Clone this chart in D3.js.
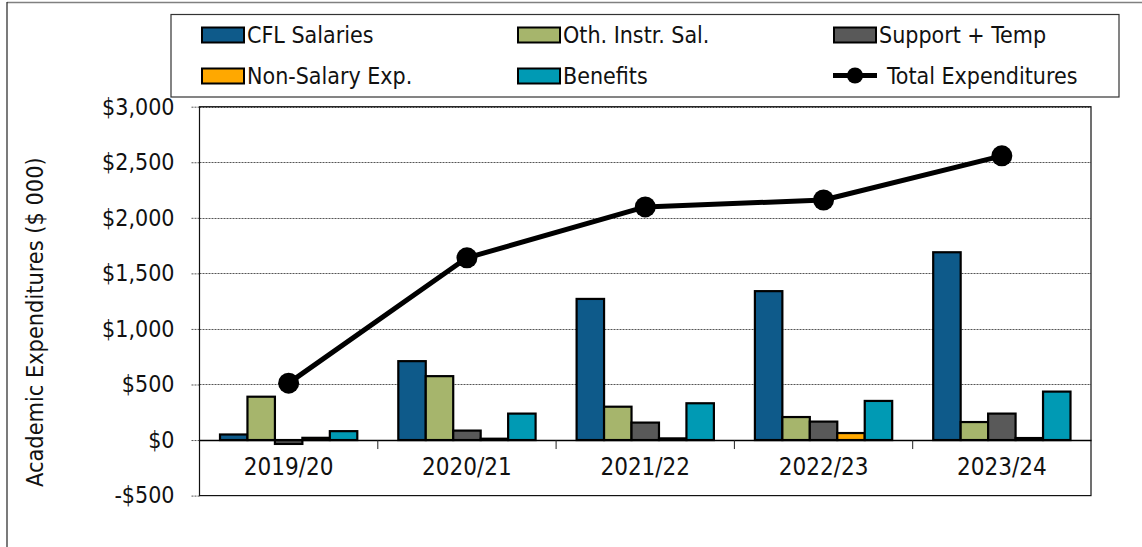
<!DOCTYPE html>
<html><head><meta charset="utf-8">
<script src="https://cdn.jsdelivr.net/npm/d3@7"></script>
<style>
body{margin:0;background:#fff;}
svg{display:block;}
text{font-family:"Liberation Sans Narrow","Arial Narrow","DejaVu Sans Condensed",sans-serif;fill:#111;}
</style></head>
<body>
<script>
const categories = ["2019/20","2020/21","2021/22","2022/23","2023/24"];
const seriesNames = ["CFL Salaries","Oth. Instr. Sal.","Support + Temp","Non-Salary Exp.","Benefits"];
const seriesColors = ["#0E5A8A","#A6B56C","#595959","#FFA800","#009AB4"];
const cflSalaries = [50, 710, 1270, 1340, 1690];
const othInstrSal = [390, 575, 300, 207, 162];
const supportTemp = [-35, 85, 157, 166, 238];
const nonSalaryExp = [20, 12, 15, 63, 18];
const benefits = [80, 238, 331, 352, 436];
const totalExpenditures = [512, 1640, 2098, 2160, 2558];
const yTicks = [-500, 0, 500, 1000, 1500, 2000, 2500, 3000];
const totalName = "Total Expenditures";
const yTitle = "Academic Expenditures ($ 000)";

const seriesValues = [cflSalaries, othInstrSal, supportTemp, nonSalaryExp, benefits];

const W = 1142, H = 547;
const svg = d3.select("body").append("svg").attr("width", W).attr("height", H);

// outer frame
svg.append("line").attr("x1",7).attr("x2",W).attr("y1",2.5).attr("y2",2.5).attr("stroke","#808080").attr("stroke-width",1.5);
svg.append("line").attr("x1",7).attr("x2",7).attr("y1",2).attr("y2",H).attr("stroke","#222").attr("stroke-width",1.2);

const plot = {left:199.5, right:1091, top:106.7, bottom:495.6};
const x = d3.scaleBand().domain(categories).range([plot.left, plot.right]).paddingInner(0.23).paddingOuter(0.115);
const xc = d3.scaleBand().domain(categories).range([plot.left, plot.right]);
const xs = d3.scaleBand().domain(d3.range(seriesNames.length)).range([0, x.bandwidth()]);
const y = d3.scaleLinear().domain([-500, 3000]).range([plot.bottom, plot.top]);

// gridlines
svg.append("g").selectAll("line").data(yTicks.filter(d => d !== 0 && d !== -500)).join("line")
  .attr("x1", plot.left).attr("x2", plot.right)
  .attr("y1", d => Math.round(y(d))+0.5).attr("y2", d => Math.round(y(d))+0.5)
  .attr("stroke","#555").attr("stroke-width",1).attr("stroke-dasharray","2,1");

// y axis
const yAxis = d3.axisLeft(y).tickValues(yTicks).tickSize(8).tickPadding(17)
  .tickFormat(d => (d < 0 ? "-$" : "$") + d3.format(",")(Math.abs(d)));
const gy = svg.append("g").attr("transform", `translate(${plot.left},0)`).call(yAxis);
gy.select(".domain").remove();
gy.selectAll(".tick line").attr("stroke","#555").attr("stroke-dasharray","2,1");
gy.selectAll(".tick text").attr("font-size",23).attr("fill","#111").attr("font-family",null);

// plot frame
svg.append("rect").attr("x",plot.left).attr("y",plot.top).attr("width",plot.right-plot.left).attr("height",plot.bottom-plot.top)
  .attr("fill","none").attr("stroke","#111").attr("stroke-width",1.2);

// bars
const groups = svg.append("g").selectAll("g").data(categories).join("g")
  .attr("transform", d => `translate(${x(d)},0)`);
groups.selectAll("rect").data((d,i) => seriesValues.map((s,k) => ({k, v:s[i]}))).join("rect")
  .attr("x", d => xs(d.k)).attr("width", xs.bandwidth())
  .attr("y", d => y(Math.max(0,d.v))).attr("height", d => Math.abs(y(d.v) - y(0)))
  .attr("fill", d => seriesColors[d.k]).attr("stroke","#000").attr("stroke-width",2.2);

// zero line + x axis
const xAxis = d3.axisBottom(xc).tickSize(0).tickPadding(18);
const gx = svg.append("g").attr("transform", `translate(0,${y(0)})`).call(xAxis);
gx.select(".domain").attr("stroke","#000").attr("stroke-width",1.5);
gx.selectAll(".tick text").attr("font-size",24).attr("fill","#111").attr("font-family",null);
svg.append("g").selectAll("line").data(categories.slice(1)).join("line")
  .attr("x1", d => xc(d)).attr("x2", d => xc(d)).attr("y1", y(0)).attr("y2", y(0)+9)
  .attr("stroke","#222").attr("stroke-width",1);

// total line
const line = d3.line().x((d,i) => xc(categories[i]) + xc.bandwidth()/2).y(d => y(d));
svg.append("path").datum(totalExpenditures).attr("d", line).attr("fill","none").attr("stroke","#000").attr("stroke-width",5).attr("stroke-linejoin","round");
svg.append("g").selectAll("circle").data(totalExpenditures).join("circle")
  .attr("cx",(d,i) => xc(categories[i]) + xc.bandwidth()/2).attr("cy", d => y(d)).attr("r",10.5).attr("fill","#000");

// y title
svg.append("text").attr("transform", `translate(43,${(plot.top+plot.bottom)/2+21}) rotate(-90)`)
  .attr("text-anchor","middle").attr("font-size",23.3).text(yTitle);

// legend
svg.append("rect").attr("x",171).attr("y",14.5).attr("width",948).attr("height",82.5).attr("fill","#fff").attr("stroke","#333").attr("stroke-width",1.2);
const legendItems = seriesNames.map((n,k) => ({name:n, color:seriesColors[k], type:"bar"})).concat([{name:totalName, type:"line"}]);
const colX = [201, 517, 833], rowY = [34.5, 75.5];
const lg = svg.append("g").selectAll("g").data(legendItems).join("g")
  .attr("transform", (d,i) => `translate(${colX[i%3]},${rowY[Math.floor(i/3)]})`);
lg.filter(d => d.type === "bar").append("rect").attr("x",1).attr("y",-7).attr("width",42).attr("height",15)
  .attr("fill", d => d.color).attr("stroke","#000").attr("stroke-width",2);
lg.filter(d => d.type === "line").append("line").attr("x1",0).attr("x2",44).attr("y1",0).attr("y2",0).attr("stroke","#000").attr("stroke-width",5);
lg.filter(d => d.type === "line").append("circle").attr("cx",22).attr("cy",0).attr("r",8).attr("fill","#000");
lg.append("text").attr("x", d => d.type === "line" ? 54 : 46).attr("y",0).attr("dy","0.36em").attr("font-size",23).text(d => d.name);
</script>
</body></html>
